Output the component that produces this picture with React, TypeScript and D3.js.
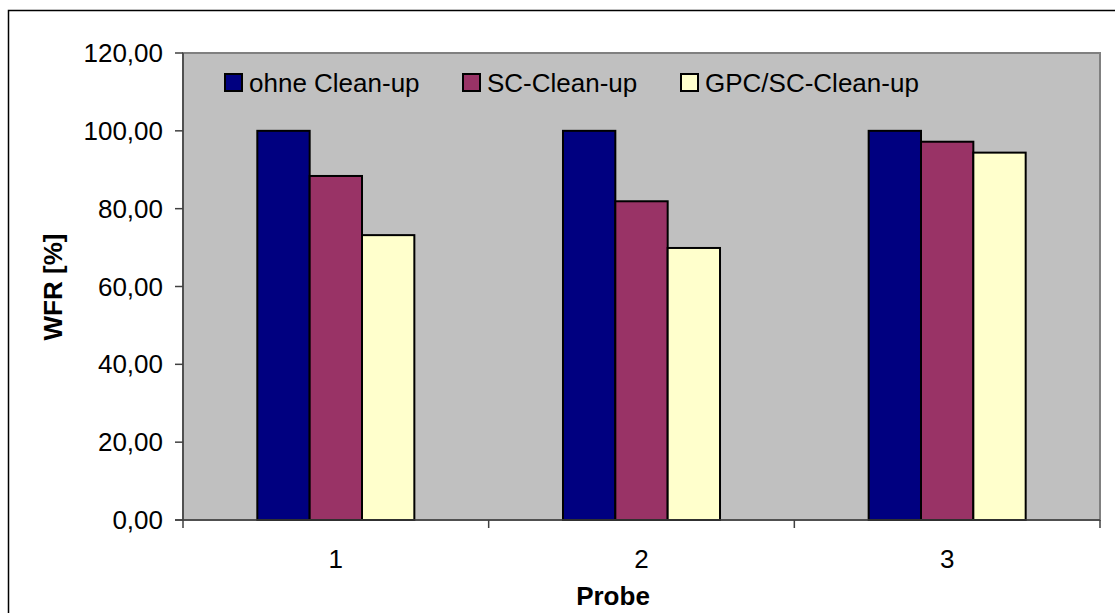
import React from "react";
import * as d3 from "d3";

const categories = ["1", "2", "3"];
const seriesNames = ["ohne Clean-up", "SC-Clean-up", "GPC/SC-Clean-up"];
const seriesColors = ["#000080", "#993366", "#FFFFCC"];
const ohneCleanup = [100, 100, 100];
const scCleanup = [88.4, 81.9, 97.2];
const gpcScCleanup = [73.2, 69.9, 94.4];
const yTicks = [0, 20, 40, 60, 80, 100, 120];

const seriesValues = [ohneCleanup, scCleanup, gpcScCleanup];

const font = "'Liberation Sans', Arial, sans-serif";

const App: React.FC = () => {
  const width = 1115;
  const height = 613;
  const plot = { left: 183, top: 53, right: 1100, bottom: 520 };

  const x0 = d3.scaleBand<string>().domain(categories).range([plot.left, plot.right]).padding(0);
  const x1 = d3
    .scaleBand<string>()
    .domain(seriesNames)
    .range([0, x0.bandwidth()])
    .paddingInner(0)
    .paddingOuter(1.42);
  const y = d3.scaleLinear().domain([0, 120]).range([plot.bottom, plot.top]);

  const fmt = (v: number) => v.toFixed(2).replace(".", ",");

  // legend item x positions (square left edges)
  const legendX = [225, 463, 681];

  return (
    <svg
      width={width}
      height={height}
      style={{ position: "absolute", left: 0, top: 0, background: "#fff" }}
      fontFamily={font}
    >
      {/* outer chart frame */}
      <rect x={8.5} y={10.5} width={1200} height={700} fill="#fff" stroke="#000" strokeWidth={1.5} />

      {/* plot area */}
      <rect
        x={plot.left}
        y={plot.top}
        width={plot.right - plot.left}
        height={plot.bottom - plot.top}
        fill="#C0C0C0"
        stroke="#808080"
        strokeWidth={2}
      />

      {/* bars */}
      {categories.map((c, ci) => (
        <g key={c} transform={`translate(${x0(c)},0)`}>
          {seriesNames.map((s, si) => (
            <rect
              key={s}
              x={x1(s)}
              y={y(seriesValues[si][ci])}
              width={x1.bandwidth()}
              height={y(0) - y(seriesValues[si][ci])}
              fill={seriesColors[si]}
              stroke="#000"
              strokeWidth={2}
            />
          ))}
        </g>
      ))}

      {/* axes lines */}
      <line x1={plot.left} x2={plot.left} y1={plot.top} y2={plot.bottom} stroke="#404040" strokeWidth={1.5} />
      <line x1={plot.left - 8} x2={plot.right} y1={plot.bottom} y2={plot.bottom} stroke="#404040" strokeWidth={1.5} />

      {/* y ticks */}
      {yTicks.map((t) => (
        <g key={t}>
          <line x1={plot.left - 8} x2={plot.left} y1={y(t)} y2={y(t)} stroke="#404040" strokeWidth={1.5} />
          <text x={163} y={y(t)} dy="0.35em" textAnchor="end" fontSize={26} fill="#000">
            {fmt(t)}
          </text>
        </g>
      ))}

      {/* x ticks at category boundaries */}
      {[...categories.map((c) => x0(c) as number), plot.right].map((xv, i) => (
        <line key={i} x1={xv} x2={xv} y1={plot.bottom} y2={plot.bottom + 8} stroke="#404040" strokeWidth={1.5} />
      ))}
      {categories.map((c) => (
        <text
          key={c}
          x={(x0(c) as number) + x0.bandwidth() / 2}
          y={568}
          textAnchor="middle"
          fontSize={26}
          fill="#000"
        >
          {c}
        </text>
      ))}

      {/* axis titles */}
      <text x={613} y={605} textAnchor="middle" fontSize={26} fontWeight="bold" fill="#000">
        Probe
      </text>
      <text
        transform={`translate(62,287) rotate(-90)`}
        textAnchor="middle"
        fontSize={26}
        fontWeight="bold"
        fill="#000"
      >
        WFR [%]
      </text>

      {/* legend */}
      {seriesNames.map((s, i) => (
        <g key={s}>
          <rect x={legendX[i]} y={74} width={17} height={17} fill={seriesColors[i]} stroke="#000" strokeWidth={2} />
          <text x={legendX[i] + 24} y={92} fontSize={26} fill="#000">
            {s}
          </text>
        </g>
      ))}
    </svg>
  );
};

export default App;
